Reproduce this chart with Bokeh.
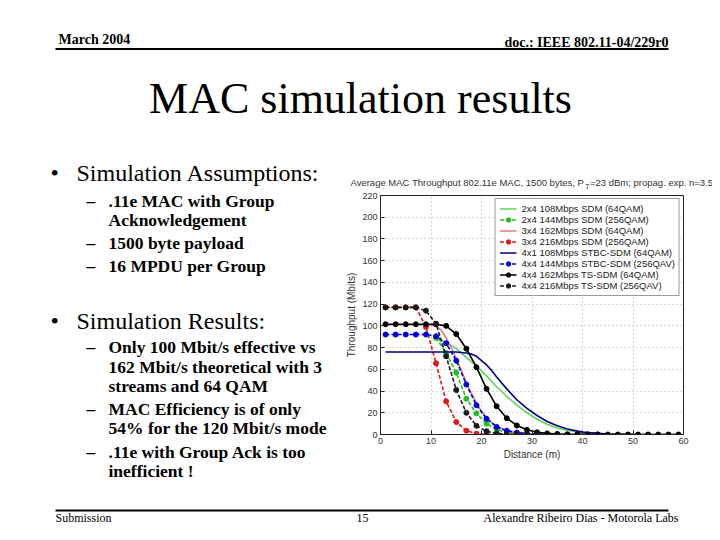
from bokeh.plotting import figure
from bokeh.layouts import column, row
from bokeh.models import Range1d, FixedTicker
from bokeh.core.properties import value
from bokeh.embed import file_html
from bokeh.resources import INLINE

# ---------------- chart data ----------------
x_ticks = [0, 10, 20, 30, 40, 50, 60]
y_ticks = [0, 20, 40, 60, 80, 100, 120, 140, 160, 180, 200, 220]

legend_labels = [
    "2x4 108Mbps SDM (64QAM)",
    "2x4 144Mbps SDM (256QAM)",
    "3x4 162Mbps SDM (64QAM)",
    "3x4 216Mbps SDM (256QAM)",
    "4x1 108Mbps STBC-SDM (64QAM)",
    "4x4 144Mbps STBC-SDM (256QAV)",
    "4x4 162Mbps TS-SDM (64QAM)",
    "4x4 216Mbps TS-SDM (256QAV)",
]

# 2x4 108Mbps SDM (64QAM) - solid light green
x_sdm108 = [11, 13, 15, 17, 19, 21, 23, 25, 27, 29, 31, 33, 35, 37, 40, 45, 50, 55, 60]
y_sdm108 = [88, 85, 79, 71, 63, 54, 44, 35, 27, 20, 14, 9.5, 6, 3.7, 1.8, 0.5, 0.1, 0, 0]

# 2x4 144Mbps SDM (256QAM) - green dashed with dots
x_sdm144 = [11, 13, 15, 17, 19, 21, 23, 25, 27, 29, 31, 33, 35, 37, 39]
y_sdm144 = [89, 75, 57, 33, 19.5, 10, 4.5, 2, 0.8, 0.3, 0, 0, 0, 0, 0]

# 3x4 162Mbps SDM (64QAM) - solid light red
x_sdm162 = [1, 5, 9, 11, 12, 13, 14, 15, 16, 17, 18, 19, 20, 21, 22, 23, 25, 27, 30, 35, 40]
y_sdm162 = [101, 101, 101, 100, 96, 89, 80, 70, 59, 48, 38, 29, 21.5, 15.5, 11, 7.5, 3.5, 1.5, 0.4, 0, 0]

# 3x4 216Mbps SDM (256QAM) - red dashed with dots
x_sdm216 = [1, 3, 5, 7, 9, 11, 13, 15, 17, 19, 21, 23, 25]
y_sdm216 = [117, 117, 117, 117, 99, 65.5, 30.5, 11.5, 3.5, 0.8, 0, 0, 0]

# 4x1 108Mbps STBC-SDM (64QAM) - solid navy
x_stbc108 = [1, 5, 9, 13, 15, 17, 18, 19, 20, 21, 22, 23, 25, 27, 29, 31, 33, 35, 37, 40, 45, 50]
y_stbc108 = [76, 76, 76, 76, 76, 75, 74, 72, 68, 64, 59, 53, 42, 32, 24, 17.5, 12, 8, 5, 2.2, 0.5, 0]

# 4x4 144Mbps STBC-SDM (256QAV) - blue dashed with dots
x_stbc144 = [1, 3, 5, 7, 9, 11, 13, 15, 17, 19, 21, 23, 25, 27, 29, 31, 33, 35, 37, 39, 41, 43]
y_stbc144 = [92, 92, 92, 92, 92, 90.5, 84, 68, 46, 27, 14.5, 7, 3.5, 1.8, 0.8, 0.3, 0, 0, 0, 0, 0, 0]

# 4x4 162Mbps TS-SDM (64QAM) - black solid with dots
x_ts162 = [1, 3, 5, 7, 9, 11, 13, 15, 17, 19, 21, 23, 25, 27, 29, 31, 33, 35, 37, 39,
           41, 43, 45, 47, 49, 51, 53, 55, 57, 59]
y_ts162 = [101.5, 101.5, 101.5, 101.5, 101.5, 101.5, 100, 92.5, 79, 62, 42, 26, 15, 8.3, 4.3, 2, 1, 0.5, 0, 0,
           0, 0, 0, 0, 0, 0, 0, 0, 0, 0]

# 4x4 216Mbps TS-SDM (256QAV) - black dashed with dots
x_ts216 = [1, 3, 5, 7, 9, 11, 13, 15, 17, 19, 21, 23, 25, 27, 29, 31]
y_ts216 = [117, 117, 117, 117, 114, 102, 72, 41, 20, 8, 3, 1, 0.3, 0, 0, 0]

series = [
    (x_sdm108, y_sdm108, "#5cd65c", "solid", False),
    (x_sdm144, y_sdm144, "#1fbf1f", "4 2", True),
    (x_sdm162, y_sdm162, "#ec7a7a", "solid", False),
    (x_sdm216, y_sdm216, "#dd1a1a", "4 2", True),
    (x_stbc108, y_stbc108, "#00008b", "solid", False),
    (x_stbc144, y_stbc144, "#0000dd", "4 2", True),
    (x_ts162, y_ts162, "#000000", "solid", True),
    (x_ts216, y_ts216, "#1a1a1a", "4 2", True),
]

SERIF = "Liberation Serif"
SANS = "Liberation Sans"


def no_align(f):
    if "frame_align" in f.properties():
        f.frame_align = False
    return f


def text_panel(x0, x1, y0, y1):
    """A plain figure whose data units are the slide's pixels (y downwards)."""
    f = figure(width=x1 - x0, height=y1 - y0, x_range=Range1d(x0, x1), y_range=Range1d(y1, y0),
               output_backend="svg", toolbar_location=None, x_axis_type=None, y_axis_type=None,
               min_border=0, min_border_left=0, min_border_right=0, min_border_top=0, min_border_bottom=0)
    f.title.visible = False
    f.grid.visible = False
    f.outline_line_color = None
    f.background_fill_color = "white"
    f.border_fill_color = "white"
    return no_align(f)


def txt(f, s, x, y, size, font=SERIF, bold=False, align="left", color="black"):
    # y is the vertical centre of the text line
    f.text(x=[x], y=[y], text=[s], text_font=value(font), text_font_size=value(f"{size}px"),
           text_font_style="bold" if bold else "normal", text_align=align,
           text_baseline="middle", text_color=color)


def rule(f, x0, x1, y, w=2):
    f.segment(x0=[x0], y0=[y], x1=[x1], y1=[y], line_width=w, line_color="black")


# ---------------- header ----------------
top = text_panel(0, 712, 0, 158)
txt(top, "March 2004", 58, 38.5, 14, bold=True)
txt(top, "doc.: IEEE 802.11-04/229r0", 668, 42, 14, bold=True, align="right")
rule(top, 55, 668, 48.5)
txt(top, "MAC simulation results", 360, 98, 44, align="center")

# ---------------- left text column ----------------
left = text_panel(0, 340, 158, 495)
txt(left, "\u2022", 50, 172, 24)
txt(left, "Simulation Assumptions:", 76, 172, 24)
txt(left, "\u2022", 50, 320, 24)
txt(left, "Simulation Results:", 76, 320, 24)
sub_lines = [("\u2013", ".11e MAC with Group", 200), (None, "Acknowledgement", 219),
             ("\u2013", "1500 byte payload", 242), ("\u2013", "16 MPDU per Group", 265),
             ("\u2013", "Only 100 Mbit/s effective vs", 346), (None, "162 Mbit/s theoretical with 3", 366.5),
             (None, "streams and 64 QAM", 385.5), ("\u2013", "MAC Efficiency is of only", 408),
             (None, "54% for the 120 Mbit/s mode", 427.5), ("\u2013", ".11e with Group Ack is too", 451),
             (None, "inefficient !", 470.5)]
for dash, s, y in sub_lines:
    if dash:
        txt(left, dash, 86, y, 17.5, bold=True)
    txt(left, s, 108, y, 17.5, bold=True)

# ---------------- chart title strip ----------------
ctitle = text_panel(340, 712, 158, 190)
txt(ctitle, "Average MAC Throughput 802.11e MAC, 1500 bytes, P", 350, 182, 9.5, font=SANS, color="#333333")
txt(ctitle, "T", 584.8, 186, 7, font=SANS, color="#333333")
txt(ctitle, "=23 dBm; propag. exp. n=3.5", 589.5, 182, 9.5, font=SANS, color="#333333")

# ---------------- chart ----------------
p = figure(width=372, height=305, x_range=Range1d(0, 60), y_range=Range1d(0, 220),
           output_backend="svg", toolbar_location=None,
           min_border_left=40, min_border_right=29, min_border_top=5, min_border_bottom=61)
no_align(p)
p.title.visible = False
p.background_fill_color = "white"
p.border_fill_color = "white"
p.outline_line_color = "#222222"
p.outline_line_width = 1

for ax, ticks in ((p.xaxis[0], x_ticks), (p.yaxis[0], y_ticks)):
    ax.ticker = FixedTicker(ticks=ticks)
    ax.major_tick_in = 4
    ax.major_tick_out = 0
    ax.minor_tick_line_color = None
    ax.axis_line_color = "#222222"
    ax.major_tick_line_color = "#222222"
    ax.major_label_text_font = SANS
    ax.major_label_text_font_size = "9px"
    ax.major_label_text_color = "#333333"
    ax.major_label_standoff = 3
    ax.axis_label_text_font = SANS
    ax.axis_label_text_font_size = "10px"
    ax.axis_label_text_font_style = "normal"
    ax.axis_label_text_color = "#333333"
    ax.axis_label_standoff = 2
p.xaxis.axis_label = "Distance (m)"
p.yaxis.axis_label = "Throughput (Mbits)"

p.xgrid.ticker = FixedTicker(ticks=x_ticks)
p.ygrid.ticker = FixedTicker(ticks=y_ticks)
p.grid.grid_line_color = "#b0b0b0"
p.grid.grid_line_dash = "1 3"

for (xs, ys, col, dash, dots), lab in zip(series, legend_labels):
    p.line(xs, ys, line_color=col, line_width=1.6, line_dash=dash, legend_label=lab)
    if dots:
        p.scatter(xs, ys, size=5, fill_color=col, line_color=col, legend_label=lab)

lg = p.legend[0]
lg.location = "top_right"
lg.margin = 3
lg.padding = 4
lg.spacing = 0
lg.glyph_width = 17
lg.glyph_height = 11
lg.label_height = 11
lg.label_standoff = 5
lg.label_text_font = SANS
lg.label_text_font_size = "9.5px"
lg.label_text_color = "#222222"
lg.border_line_color = "#333333"
lg.border_line_width = 1
lg.background_fill_alpha = 1.0

# ---------------- footer ----------------
bottom = text_panel(0, 712, 495, 532)
rule(bottom, 55, 668, 510)
txt(bottom, "Submission", 55, 517, 12)
txt(bottom, "15", 362, 517, 12, align="center")
txt(bottom, "Alexandre Ribeiro Dias - Motorola Labs", 678, 517, 12, align="right")

layout = column(top, row(left, column(ctitle, p, spacing=0), spacing=0), bottom, spacing=0)

open("out.html", "w").write(file_html(layout, INLINE))
